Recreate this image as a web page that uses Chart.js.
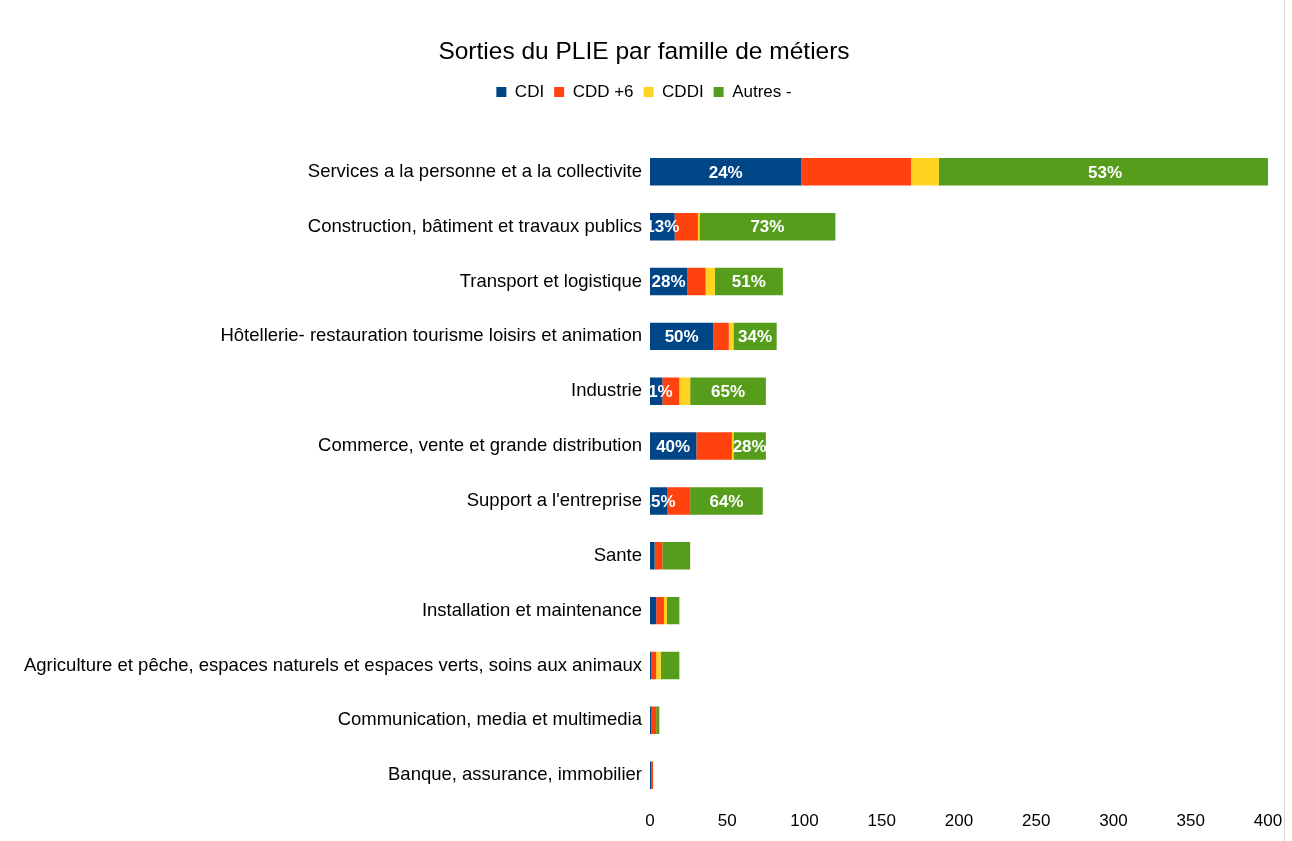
<!DOCTYPE html>
<html>
<head>
<meta charset="utf-8">
<script src="https://cdn.jsdelivr.net/npm/chart.js@4"></script>
<style>
  html, body { margin: 0; padding: 0; background: #fff; }
  #wrap { position: relative; width: 1292px; height: 841px; }
  #edge { position: absolute; left: 1284px; top: 0; width: 1px; height: 841px; background: #d8d8d8; }
</style>
</head>
<body>
<div id="wrap">
  <canvas id="chart" width="1292" height="841"></canvas>
  <div id="edge"></div>
</div>
<script>
// Data
const categories = [
    'Services a la personne et a la collectivite',
    'Construction, bâtiment et travaux publics',
    'Transport et logistique',
    'Hôtellerie- restauration tourisme loisirs et animation',
    'Industrie',
    'Commerce, vente et grande distribution',
    "Support a l'entreprise",
    'Sante',
    'Installation et maintenance',
    'Agriculture et pêche, espaces naturels et espaces verts, soins aux animaux',
    'Communication, media et multimedia',
    'Banque, assurance, immobilier'
];
const cdi    = [98, 16, 24, 41,  8, 30, 11, 3, 4,  1, 1, 1];
const cdd6   = [71, 15, 12, 10, 11, 23, 15, 5, 5,  3, 3, 1];
const cddi   = [18,  1,  6,  3,  7,  1,  0, 0, 2,  3, 0, 0];
const autres = [215, 88, 44, 28, 49, 21, 47, 18, 8, 12, 2, 0];
const xTicks = [0, 50, 100, 150, 200, 250, 300, 350, 400];

const FONT = '"Liberation Sans", Arial, sans-serif';

const totals = categories.map((_, i) => cdi[i] + cdd6[i] + cddi[i] + autres[i]);

// Extra room under the legend before the plot starts
const legendGap = {
    id: 'legendGap',
    beforeInit(chart) {
        const fit = chart.legend.fit;
        chart.legend.fit = function () {
            fit.call(this);
            this.height += 34;
        };
    }
};

// Percentage labels on CDI and Autres segments, clipped to the plot area
const pctLabels = {
    id: 'pctLabels',
    afterDatasetsDraw(chart) {
        const ctx = chart.ctx;
        const area = chart.chartArea;
        ctx.save();
        ctx.beginPath();
        ctx.rect(area.left, area.top, area.right - area.left, area.bottom - area.top);
        ctx.clip();
        ctx.font = 'bold 17px ' + FONT;
        ctx.fillStyle = '#ffffff';
        ctx.textAlign = 'center';
        ctx.textBaseline = 'middle';
        [0, 3].forEach(di => {
            const meta = chart.getDatasetMeta(di);
            const values = chart.data.datasets[di].data;
            meta.data.forEach((bar, i) => {
                if (totals[i] < 50 || !values[i]) return;
                const pct = Math.round(values[i] / totals[i] * 100) + '%';
                ctx.fillText(pct, (bar.x + bar.base) / 2, bar.y + 1);
            });
        });
        ctx.restore();
    }
};

const ctx = document.getElementById('chart').getContext('2d');
new Chart(ctx, {
    type: 'bar',
    data: {
        labels: categories,
        datasets: [
            { label: 'CDI', data: cdi, backgroundColor: '#004586' },
            { label: 'CDD +6', data: cdd6, backgroundColor: '#ff420e' },
            { label: 'CDDI', data: cddi, backgroundColor: '#ffd320' },
            { label: 'Autres -', data: autres, backgroundColor: '#579d1c' }
        ]
    },
    options: {
        indexAxis: 'y',
        responsive: false,
        animation: false,
        barPercentage: 1,
        categoryPercentage: 0.5,
        layout: { padding: { left: 20, right: 24, top: 0, bottom: 0 } },
        scales: {
            x: {
                stacked: true,
                min: 0,
                max: 400,
                afterBuildTicks: axis => { axis.ticks = xTicks.map(v => ({ value: v })); },
                grid: { display: false, drawTicks: false },
                border: { display: false },
                ticks: { color: '#000', padding: 9, font: { size: 17, family: FONT } }
            },
            y: {
                stacked: true,
                grid: { display: false, drawTicks: false },
                border: { display: false },
                afterFit: axis => { axis.width = 630; },
                ticks: { color: '#000', padding: 8, font: { size: 18.5, family: FONT } }
            }
        },
        plugins: {
            title: {
                display: true,
                text: 'Sorties du PLIE par famille de métiers',
                color: '#000',
                font: { size: 24.5, weight: 'normal', family: FONT },
                padding: { top: 38, bottom: 6 }
            },
            legend: {
                position: 'top',
                labels: {
                    color: '#000',
                    boxWidth: 10,
                    boxHeight: 10,
                    padding: 10,
                    font: { size: 17, family: FONT }
                }
            },
            tooltip: { enabled: false }
        }
    },
    plugins: [legendGap, pctLabels]
});
</script>
</body>
</html>
